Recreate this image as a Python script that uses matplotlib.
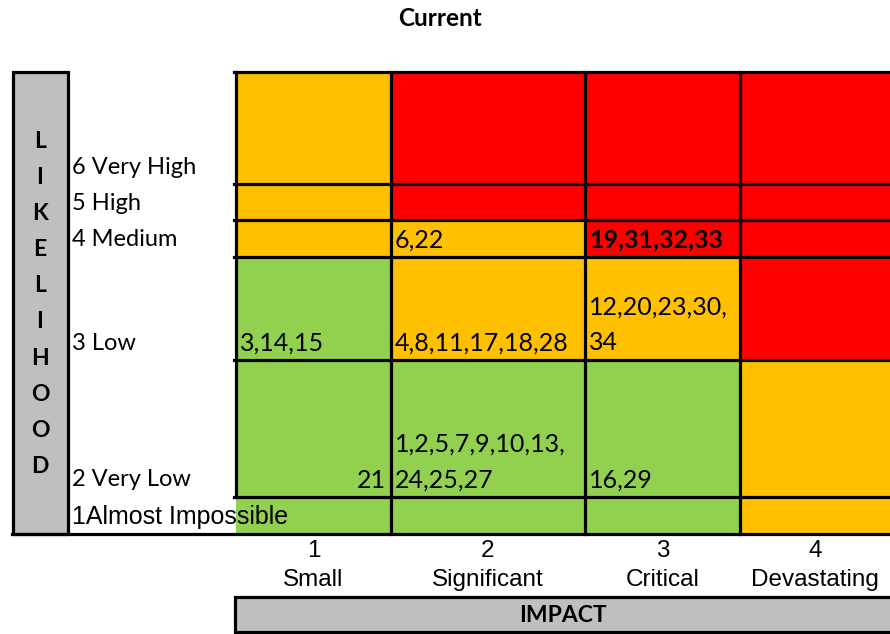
import matplotlib.pyplot as plt
from matplotlib.patches import Rectangle

# Risk matrix data
impact_levels = ["1\nSmall", "2\nSignificant", "3\nCritical", "4\nDevastating"]
likelihood_levels = ["6 Very High", "5 High", "4 Medium", "3 Low", "2 Very Low", "1Almost Impossible"]

# rating per cell, rows top (6) to bottom (1), columns impact 1..4
ratings = [
    ["M", "H", "H", "H"],
    ["M", "H", "H", "H"],
    ["M", "M", "H", "H"],
    ["L", "M", "M", "H"],
    ["L", "L", "L", "M"],
    ["L", "L", "L", "M"],
]

# risk ids per cell
risk_ids = [
    ["", "", "", ""],
    ["", "", "", ""],
    ["", "6,22", "19,31,32,33", ""],
    ["3,14,15", "4,8,11,17,18,28", "12,20,23,30,\n34", ""],
    ["21", "1,2,5,7,9,10,13,\n24,25,27", "16,29", ""],
    ["", "", "", ""],
]
bold_cells = [(2, 2)]
right_cells = [(4, 0)]

colors = {"L": "#92D050", "M": "#FFC000", "H": "#FF0000"}

# layout in pixels
W, H = 890, 634
col_edges = [236, 391, 585, 740, 892]
row_edges = [72, 184, 220, 257, 360, 497, 534]
lw = 2.3
cell_font = "Lato"
arial = "Liberation Sans"

fig = plt.figure(figsize=(W / 100, H / 100), dpi=100)
ax = fig.add_axes([0, 0, 1, 1])
ax.set_xlim(0, W)
ax.set_ylim(H, 0)
ax.axis("off")

ax.text(440, 19, "Current", ha="center", va="center", fontsize=17.5,
        fontweight="bold", family=cell_font)

# cells
for r in range(len(likelihood_levels)):
    y0, y1 = row_edges[r], row_edges[r + 1]
    for c in range(len(impact_levels)):
        x0, x1 = col_edges[c], col_edges[c + 1]
        ax.add_patch(Rectangle((x0, y0), x1 - x0, y1 - y0,
                               facecolor=colors[ratings[r][c]], edgecolor="none", zorder=1))
        lines = risk_ids[r][c].split("\n")[::-1]
        for k, line in enumerate(lines):
            right = (r, c) in right_cells
            ax.text(x1 - 5 if right else x0 + 4, y1 - 17 - 36 * k, line,
                    ha="right" if right else "left", va="center", fontsize=18,
                    family=cell_font,
                    fontweight="bold" if (r, c) in bold_cells else "normal", zorder=4)
    last = r == len(likelihood_levels) - 1
    ax.text(72, y1 - 17, likelihood_levels[r], ha="left", va="center",
            fontsize=18 if last else 17, family=arial if last else cell_font, zorder=5)

# grid lines
for y in row_edges[:-1]:
    ax.plot([col_edges[0] - 2, W], [y, y], color="black", lw=lw, zorder=3)
ax.plot([12, W], [row_edges[-1], row_edges[-1]], color="black", lw=lw, zorder=3)
for x in col_edges[1:-1]:
    ax.plot([x, x], [row_edges[0], row_edges[-1]], color="black", lw=lw, zorder=3)
ax.plot([col_edges[0], col_edges[0]], [row_edges[0], row_edges[-2]], color="black", lw=lw, zorder=3)

# likelihood bar
ax.add_patch(Rectangle((13, 72), 55, 462, facecolor="#BFBFBF", edgecolor="black",
                       lw=lw, zorder=2))
for i, ch in enumerate("LIKELIHOOD"):
    ax.text(40, 141 + 36.2 * i, ch, ha="center", va="center", fontsize=16.5,
            fontweight="bold", family=cell_font, zorder=4)

# impact labels and bar
for c, lab in enumerate(impact_levels):
    xc = (col_edges[c] + min(col_edges[c + 1], W)) / 2
    num, name = lab.split("\n")
    ax.text(xc, 551, num, ha="center", va="center", fontsize=17.5, family=arial)
    ax.text(xc, 580, name, ha="center", va="center", fontsize=17.5, family=arial)

ax.add_patch(Rectangle((235, 597), W - 235 + 5, 35, facecolor="#BFBFBF", edgecolor="black",
                       lw=lw, zorder=2))
ax.text(563, 616, "IMPACT", ha="center", va="center", fontsize=16.5,
        fontweight="bold", family=cell_font, zorder=4)

fig.savefig("out.png", dpi=100)
